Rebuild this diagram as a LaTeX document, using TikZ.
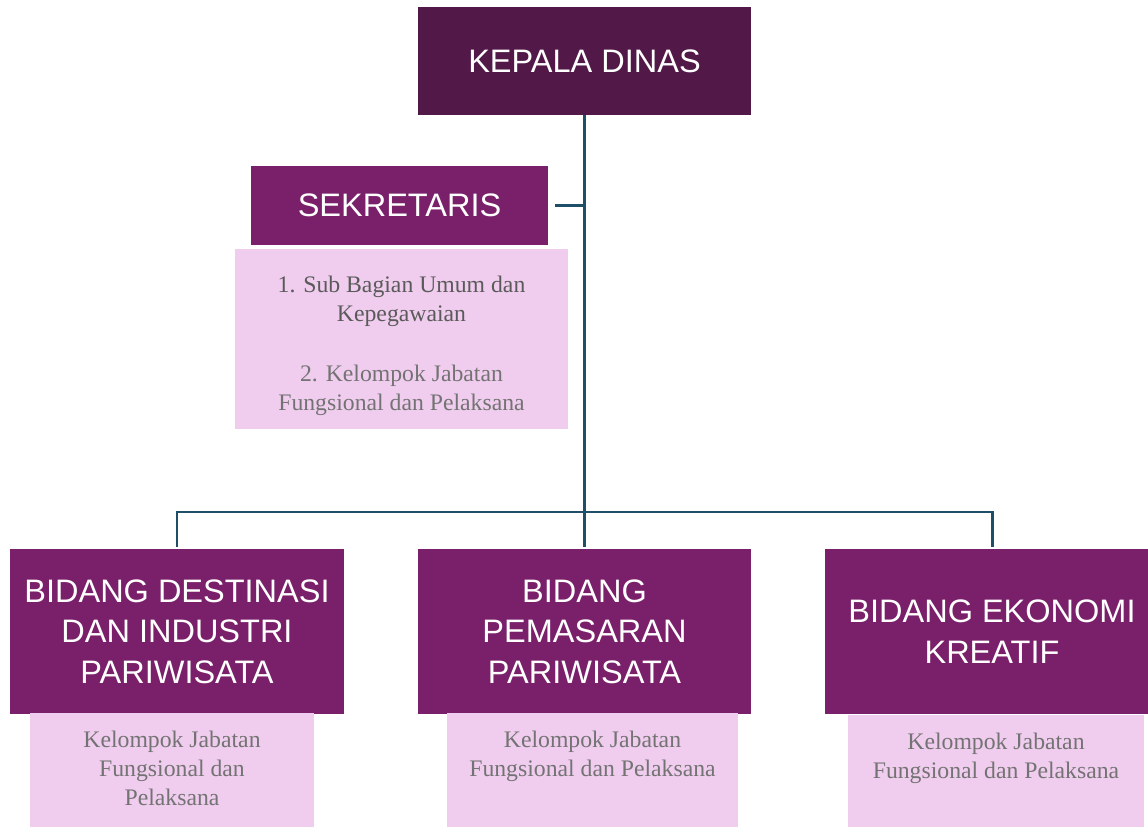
\documentclass[tikz,border=0pt]{standalone}
\usepackage{fontspec}
\setmainfont{Liberation Serif}
\setsansfont{Liberation Sans}
\usepackage{xcolor}
\definecolor{head-plum}{HTML}{521848}
\definecolor{unit-purple}{HTML}{7A1F6A}
\definecolor{sub-pink}{HTML}{F0CDEE}
\definecolor{sub-gray}{HTML}{737373}
\definecolor{sub-dark}{HTML}{5A5A5A}
\definecolor{link-teal}{HTML}{1F4E69}
\tikzset{
    head-box/.style = {fill=head-plum, text=white, rectangle, inner sep=0pt, align=center, font=\sffamily\fontsize{18.5}{23}\selectfont},
    unit-box/.style = {fill=unit-purple, text=white, rectangle, inner sep=0pt, align=center, font=\sffamily\fontsize{18.5}{23}\selectfont, minimum width=6.68cm, minimum height=3.3cm},
    sub-box/.style = {fill=sub-pink, text=sub-gray, rectangle, inner xsep=0pt, align=center, font=\fontsize{13.5}{16.4}\selectfont},
    sub-top/.style = {sub-box, anchor=north, inner ysep=0.36cm, text depth=2.2cm},
    link/.style = {draw=link-teal, line width=1.7pt},
}

\begin{document}
\begin{tikzpicture}[x=0.02cm, y=-0.02cm]
\useasboundingbox (0,0) rectangle (1148,827);

\node[head-box, minimum width=6.66cm, minimum height=2.16cm] (kepala) at (584.5,61) {KEPALA DINAS};
\node[head-box, fill=unit-purple, minimum width=5.94cm, minimum height=1.58cm] (sekretaris) at (399.5,205.5) {SEKRETARIS};
\node[sub-box, anchor=north, minimum width=6.66cm, inner ysep=0pt, text height=3.22cm, text depth=0.38cm] (sekretaris-sub) at (401.5,249) {\textcolor{sub-dark}{1. Sub Bagian Umum dan}\\\textcolor{sub-dark}{Kepegawaian}\\[18pt]2. Kelompok Jabatan\\Fungsional dan Pelaksana};

\node[unit-box] (destinasi) at (177,631.5) {BIDANG DESTINASI\\DAN INDUSTRI\\PARIWISATA};
\node[unit-box] (pemasaran) at (584.5,631.5) {BIDANG\\PEMASARAN\\PARIWISATA};
\node[unit-box] (ekonomi) at (992,631.5) {BIDANG EKONOMI\\KREATIF};

\node[sub-top, minimum width=5.68cm] (destinasi-sub) at (172,713) {Kelompok Jabatan\\Fungsional dan\\Pelaksana};
\node[sub-top, minimum width=5.82cm] (pemasaran-sub) at (592.5,713) {Kelompok Jabatan\\Fungsional dan Pelaksana};
\node[sub-top, minimum width=5.94cm] (ekonomi-sub) at (996,715) {Kelompok Jabatan\\Fungsional dan Pelaksana};

% connectors
\coordinate (bus) at (584.5,512);
\draw[link] (kepala.south) -- (bus);
\draw[link] ([xshift=4pt]sekretaris.east) -- (sekretaris.east -| kepala.south);
\draw[link] ([yshift=1pt]destinasi.north) |- (bus) -| ([yshift=1pt]ekonomi.north);
\draw[link] (bus) -- ([yshift=1pt]pemasaran.north);
\end{tikzpicture}
\end{document}
